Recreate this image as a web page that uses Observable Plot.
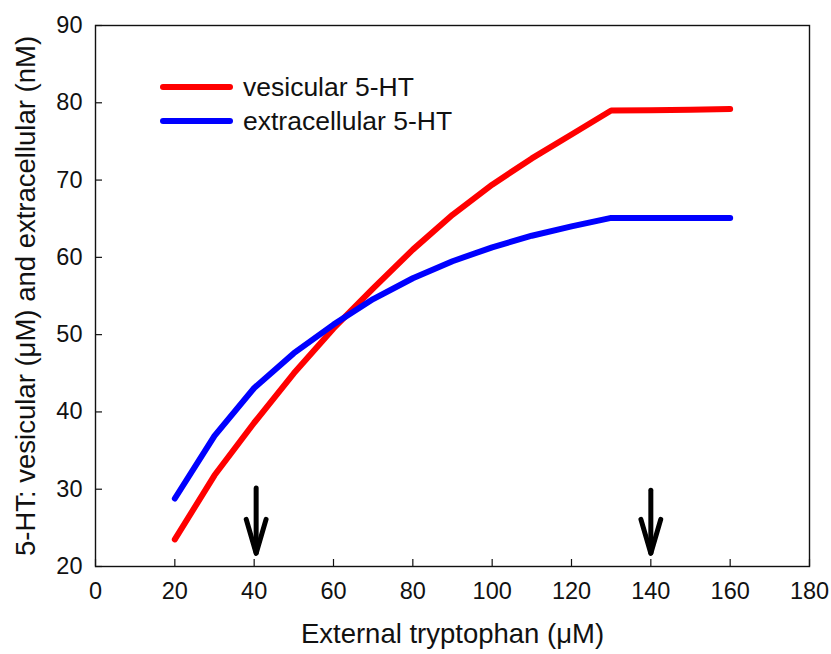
<!DOCTYPE html>
<html>
<head>
<meta charset="utf-8">
<script src="https://cdn.jsdelivr.net/npm/d3@7"></script>
<script src="https://cdn.jsdelivr.net/npm/@observablehq/plot@0.6"></script>
<style>
  html, body { margin: 0; padding: 0; background: #fff; }
  #chart { width: 831px; height: 654px; }
</style>
</head>
<body>
<div id="chart"></div>
<script>
// ---- data ----
const tryptophan = [20, 30, 40, 50, 60, 70, 80, 90, 100, 110, 120, 130, 140, 150, 160];
const vesicular = [23.5, 31.8, 38.6, 45.0, 50.8, 56.0, 61.0, 65.5, 69.4, 72.8, 75.9, 79.0, 79.05, 79.1, 79.2];
const extracellular = [28.8, 36.9, 43.1, 47.6, 51.3, 54.6, 57.3, 59.5, 61.3, 62.8, 64.0, 65.1, 65.1, 65.1, 65.1];
const seriesNames = ["vesicular 5-HT", "extracellular 5-HT"];
const seriesColors = ["#ff0000", "#0000ff"];
const xTicks = [0, 20, 40, 60, 80, 100, 120, 140, 160, 180];
const yTicks = [20, 30, 40, 50, 60, 70, 80, 90];
const arrowX = [40.5, 140];
const arrowTop = [30.1, 29.8];
const arrowTip = [21.7, 21.7];
const xLabel = "External tryptophan (\u03bcM)";
const yLabel = "5-HT: vesicular (\u03bcM) and extracellular (nM)";

// ---- build tables ----
const rows = [];
tryptophan.forEach((t, i) => {
  rows.push({x: t, y: vesicular[i], s: seriesNames[0]});
  rows.push({x: t, y: extracellular[i], s: seriesNames[1]});
});
const arrows = arrowX.map((x, i) => ({x, top: arrowTop[i], tip: arrowTip[i]}));
const wingDx = 2.5, wingDy = 4.4;
const heads = arrows.flatMap((a, i) => [
  {x: a.x - wingDx, y: a.tip + wingDy, k: i},
  {x: a.x, y: a.tip, k: i},
  {x: a.x + wingDx, y: a.tip + wingDy, k: i}
]);

const W = 831, H = 654, mL = 95, mR = 22, mT = 25, mB = 88;
const plotW = W - mL - mR, plotH = H - mT - mB;
const font = "'Liberation Sans', Arial, Helvetica, sans-serif";

const chart = Plot.plot({
  width: W,
  height: H,
  marginLeft: mL,
  marginRight: mR,
  marginTop: mT,
  marginBottom: mB,
  style: {fontFamily: font, fontSize: "23.5px", color: "#111", background: "#fff"},
  x: {domain: [0, 180]},
  y: {domain: [20, 90]},
  color: {domain: seriesNames, range: seriesColors},
  marks: [
    Plot.axisX({ticks: xTicks, tickSize: 0, tickPadding: 16, tickFormat: d => d, label: null}),
    Plot.axisY({ticks: yTicks, tickSize: 0, tickPadding: 13, tickFormat: d => d, label: null}),
    Plot.tickX(xTicks, {x: d => d, insetTop: plotH - 7, stroke: "#111", strokeWidth: 1.2}),
    Plot.tickY(yTicks, {y: d => d, insetRight: plotW - 7, stroke: "#111", strokeWidth: 1.2}),
    Plot.frame({stroke: "#111", strokeWidth: 1.4}),
    Plot.line(rows, {x: "x", y: "y", z: "s", stroke: "s", strokeWidth: 6, strokeLinecap: "round", strokeLinejoin: "round"}),
    Plot.ruleX(arrows, {x: "x", y1: "top", y2: "tip", stroke: "#000", strokeWidth: 5, strokeLinecap: "round"}),
    Plot.line(heads, {x: "x", y: "y", z: "k", stroke: "#000", strokeWidth: 5, strokeLinecap: "round", strokeLinejoin: "round"}),
    Plot.text([xLabel], {text: d => d, frameAnchor: "bottom", dy: 68, lineAnchor: "middle", textAnchor: "middle", fontSize: 27.5, fill: "#111"}),
    Plot.text([yLabel], {text: d => d, frameAnchor: "left", dx: -69, rotate: -90, lineAnchor: "middle", textAnchor: "middle", fontSize: 27.5, fill: "#111"})
  ]
});
document.getElementById("chart").appendChild(chart);

// ---- legend (inside the plot, upper left) ----
const svg = d3.select(chart);
const lg = svg.append("g").attr("class", "legend");
seriesNames.forEach((name, i) => {
  const y = 87 + i * 34;
  lg.append("line")
    .attr("x1", 163).attr("x2", 230).attr("y1", y).attr("y2", y)
    .attr("stroke", seriesColors[i]).attr("stroke-width", 6).attr("stroke-linecap", "round");
  lg.append("text")
    .attr("x", 243).attr("y", y).attr("dy", "0.34em")
    .attr("text-anchor", "start")
    .attr("font-family", font).attr("font-size", 26.5).attr("fill", "#111")
    .text(name);
});
</script>
</body>
</html>
